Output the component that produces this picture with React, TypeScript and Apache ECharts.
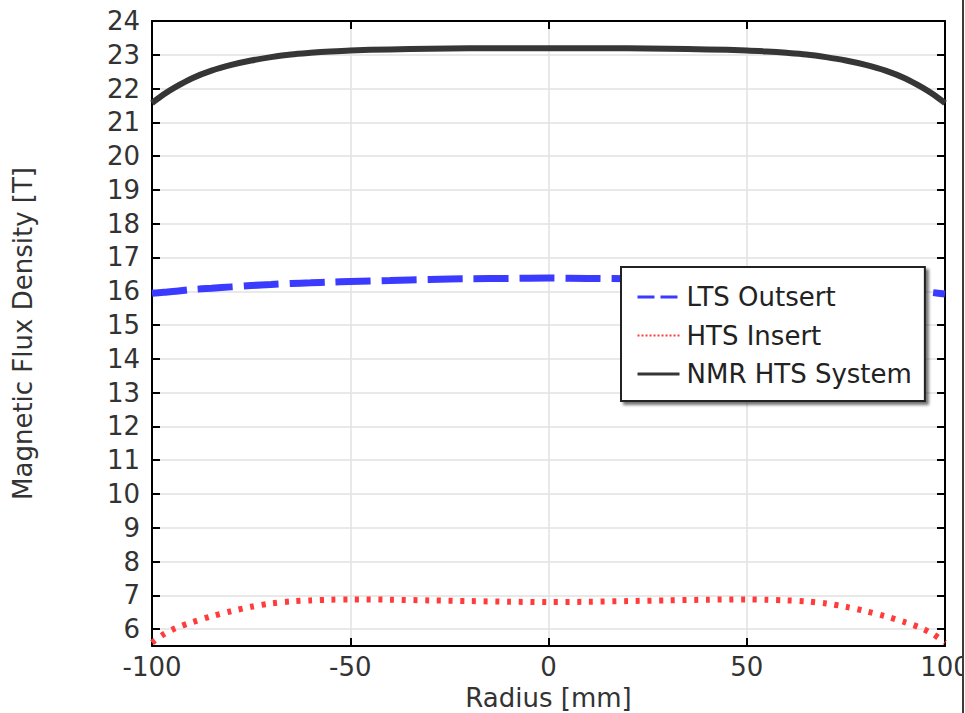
import React, { useEffect, useRef } from "react";
import * as echarts from "echarts";

const radius = [-100, -97, -94, -90, -85, -80, -75, -70, -65, -60, -55, -50, -40, -30, -20, -10, 0, 10, 20, 30, 40, 50, 55, 60, 65, 70, 75, 80, 85, 90, 94, 97, 100];
const ltsOutsert = [15.94, 15.97, 16.0, 16.05, 16.09, 16.13, 16.17, 16.2, 16.23, 16.25, 16.27, 16.29, 16.32, 16.35, 16.37, 16.38, 16.39, 16.38, 16.37, 16.35, 16.32, 16.29, 16.27, 16.25, 16.23, 16.2, 16.17, 16.13, 16.09, 16.05, 16.0, 15.96, 15.92];
const htsInsert = [5.6, 5.85, 6.03, 6.2, 6.38, 6.53, 6.66, 6.76, 6.82, 6.85, 6.87, 6.88, 6.87, 6.85, 6.83, 6.81, 6.8, 6.81, 6.83, 6.85, 6.87, 6.88, 6.87, 6.85, 6.82, 6.76, 6.66, 6.53, 6.38, 6.2, 6.03, 5.85, 5.6];
const nmrSystem = [21.57, 21.83, 22.05, 22.3, 22.53, 22.7, 22.83, 22.93, 23.01, 23.06, 23.1, 23.13, 23.16, 23.18, 23.19, 23.19, 23.19, 23.19, 23.19, 23.18, 23.16, 23.13, 23.1, 23.06, 23.01, 22.93, 22.83, 22.7, 22.53, 22.3, 22.05, 21.83, 21.57];

const seriesNames = ["LTS Outsert", "HTS Insert", "NMR HTS System"];
const xTitle = "Radius [mm]";
const yTitle = "Magnetic Flux Density [T]";

const FONT = "DejaVu Sans";

export default function App() {
  const ref = useRef<HTMLDivElement>(null);
  useEffect(() => {
    if (!ref.current) return;
    const chart = echarts.init(ref.current, undefined, { renderer: "svg" });
    const pairs = (vals: number[]) => radius.map((r, i) => [r, vals[i]]);
    const axisLine = { show: true, onZero: false, lineStyle: { color: "#000", width: 2 } };
    const axisTick = { show: true, inside: true, length: 8, lineStyle: { color: "#000", width: 2 } };
    const label = { fontSize: 26, color: "#333", fontFamily: FONT };
    const split = { show: true, lineStyle: { color: "#e2e2e2", width: 1.5 } };
    const yCommon = { type: "value", min: 5.5, max: 24, splitNumber: 18, minInterval: 1, maxInterval: 1 };
    chart.setOption({
      animation: false,
      backgroundColor: "#fff",
      grid: { left: 152, right: 20, top: 21, bottom: 67, show: false, containLabel: false, outerBoundsMode: "none" },
      xAxis: [
        {
          type: "value", min: -100, max: 100, interval: 50, position: "bottom",
          axisLine, axisTick,
          axisLabel: { ...label, margin: 8, showMinLabel: true, showMaxLabel: true },
          splitLine: split,
          name: xTitle, nameLocation: "middle", nameGap: 39,
          nameTextStyle: { ...label },
        },
        {
          type: "value", min: -100, max: 100, interval: 50, position: "top",
          axisLine, axisTick, axisLabel: { show: false }, splitLine: { show: false },
        },
      ],
      yAxis: [
        {
          ...yCommon, position: "left",
          axisLine, axisTick,
          axisLabel: {
            ...label, margin: 12,
            formatter: (v: number) => (Math.abs(v - Math.round(v)) < 1e-6 ? String(Math.round(v)) : ""),
          },
          splitLine: split,
          name: yTitle, nameLocation: "middle", nameGap: 116,
          nameTextStyle: { ...label },
        },
        {
          ...yCommon, position: "right",
          axisLine, axisTick, axisLabel: { show: false }, splitLine: { show: false },
        },
      ],
      legend: {
        orient: "vertical", left: 621, top: 267,
        padding: [16, 13, 13, 15],
        backgroundColor: "#fff", borderColor: "#222", borderWidth: 2,
        shadowColor: "rgba(0,0,0,0.55)", shadowBlur: 3, shadowOffsetX: 3, shadowOffsetY: 3,
        itemWidth: 42, itemHeight: 14, itemGap: 10.5,
        textStyle: { fontSize: 26, color: "#222", fontFamily: FONT, padding: [0, 0, 0, 2], lineHeight: 28 },
        data: [
          { name: seriesNames[0], itemStyle: { opacity: 0 }, lineStyle: { width: 3, type: [17, 6] } },
          { name: seriesNames[1], itemStyle: { opacity: 0 }, lineStyle: { width: 2, type: [2, 2] } },
          { name: seriesNames[2], itemStyle: { opacity: 0 }, lineStyle: { width: 3, type: "solid" } },
        ],
      },
      graphic: [
        { type: "rect", z: 100, shape: { x: 962, y: 0, width: 3, height: 713 }, style: { fill: "#fff" } },
        { type: "rect", z: 101, shape: { x: 962, y: 0, width: 2, height: 713 }, style: { fill: "#3c3c3c" } },
      ],
      series: [
        {
          name: seriesNames[0], type: "line", data: pairs(ltsOutsert), symbol: "none", smooth: 0.3,
          lineStyle: { color: "#3b3bff", width: 7, type: [35, 11] }, itemStyle: { color: "#3b3bff" },
        },
        {
          name: seriesNames[1], type: "line", data: pairs(htsInsert), symbol: "none", smooth: 0.3,
          lineStyle: { color: "#ff3b3b", width: 6, type: [4, 7.7] }, itemStyle: { color: "#ff3b3b" },
        },
        {
          name: seriesNames[2], type: "line", data: pairs(nmrSystem), symbol: "none", smooth: 0.3,
          lineStyle: { color: "#363636", width: 6 }, itemStyle: { color: "#363636" },
        },
      ],
    });
    return () => chart.dispose();
  }, []);
  return <div ref={ref} style={{ position: "fixed", left: 0, top: 0, width: 965, height: 713 }} />;
}
